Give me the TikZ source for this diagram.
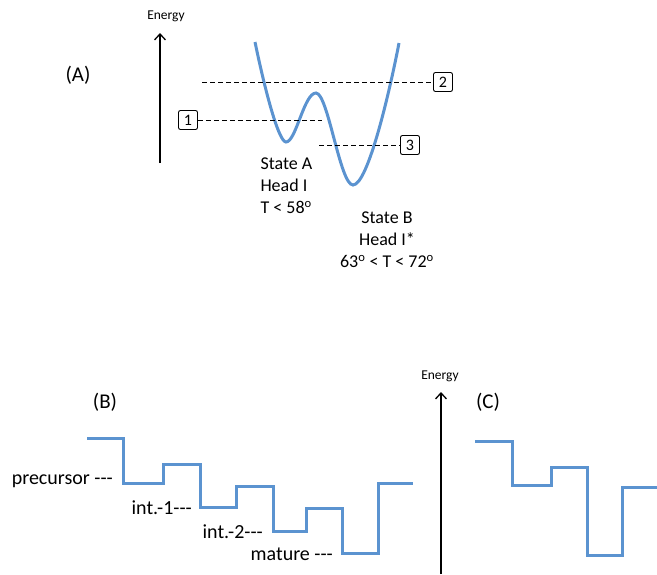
\documentclass[tikz,border=0pt]{standalone}
\usepackage{fontspec}
\setmainfont{Carlito}
\usetikzlibrary{arrows.meta,positioning}
\definecolor{curveblue}{RGB}{91,147,208}
\newcommand{\tick}{{-}{-}{-}}

\begin{document}
\begin{tikzpicture}[x=1pt, y=-1pt, >={Straight Barb[length=6pt,width=11pt,line width=1.3pt]},
  font=\fontsize{18}{22}\selectfont]
\tikzset{
  levelline/.style={curveblue, line width=3pt},
  energyaxis/.style={->, line width=1.3pt},
  guide/.style={line width=0.9pt, dash pattern=on 5pt off 3pt},
  numbox/.style={draw, rounded corners=2pt, minimum size=19pt, inner sep=0pt, line width=0.9pt, font=\fontsize{16}{16}\selectfont},
  panel/.style={font=\fontsize{21}{22}\selectfont},
  axislabel/.style={font=\fontsize{13.5}{14}\selectfont},
  steplabel/.style={anchor=east, inner sep=0pt, font=\fontsize{20}{22}\selectfont},
}
\useasboundingbox (0,0) rectangle (657,574);

% (A) double well
\node[panel] (lblA) at (78,75) {(A)};
\coordinate (axA0) at (160,163);
\coordinate (axA1) at (160,33);
\draw[energyaxis] (axA0) -- (axA1);
\node[axislabel] (enA) at (166,16) {Energy};
\draw[levelline] (255,42) .. controls (266,95) and (279,142) .. (286,142)
  .. controls (296,142) and (304,93) .. (316,93)
  .. controls (328,93) and (340,185) .. (353,185)
  .. controls (368,185) and (390,90) .. (399,43);
\node[numbox] (box1) at (188,120) {1};
\node[numbox] (box2) at (443,82) {2};
\node[numbox] (box3) at (410,145) {3};
\coordinate (lvl1) at (322,120);
\coordinate (lvl2) at (202,82);
\coordinate (lvl3) at (319,145);
\draw[guide] (box1) -- (lvl1);
\draw[guide] (lvl2) -- (box2);
\draw[guide] (lvl3) -- (box3);
\node[align=left, anchor=west] (stA) at (257,186) {State A\\Head I\\T < 58\textsuperscript{o}};
\node[align=center] (stB) at (387,240) {State B\\Head I*\\63\textsuperscript{o} < T < 72\textsuperscript{o}};

% (B) folding pathway
\node[panel] (lblB) at (105,402) {(B)};
\draw[levelline] (87,438) -| (123,483) -| (163,464) -| (200,507) -| (236,486)
  -| (273,531) -| (306,508) -| (342,553) -| (378,483) -- (413,483);
\foreach \i/\x/\y/\lbl in {1/113/481/{precursor \tick}, 2/192/508/{int.-1\tick},
    3/263/532/{int.-2\tick}, 4/333/554/{mature \tick}}{
  \node[steplabel] (st\i) at (\x,\y) {\lbl};
}

% (C)
\coordinate (axC0) at (441,574);
\coordinate (axC1) at (441,392);
\draw[energyaxis] (axC0) -- (axC1);
\node[axislabel] (enC) at (440,376) {Energy};
\node[panel] (lblC) at (488,402) {(C)};
\draw[levelline] (475,441) -| (512,485) -| (551,467) -| (587,555) -| (622,487) -- (657,487);
\end{tikzpicture}
\end{document}
